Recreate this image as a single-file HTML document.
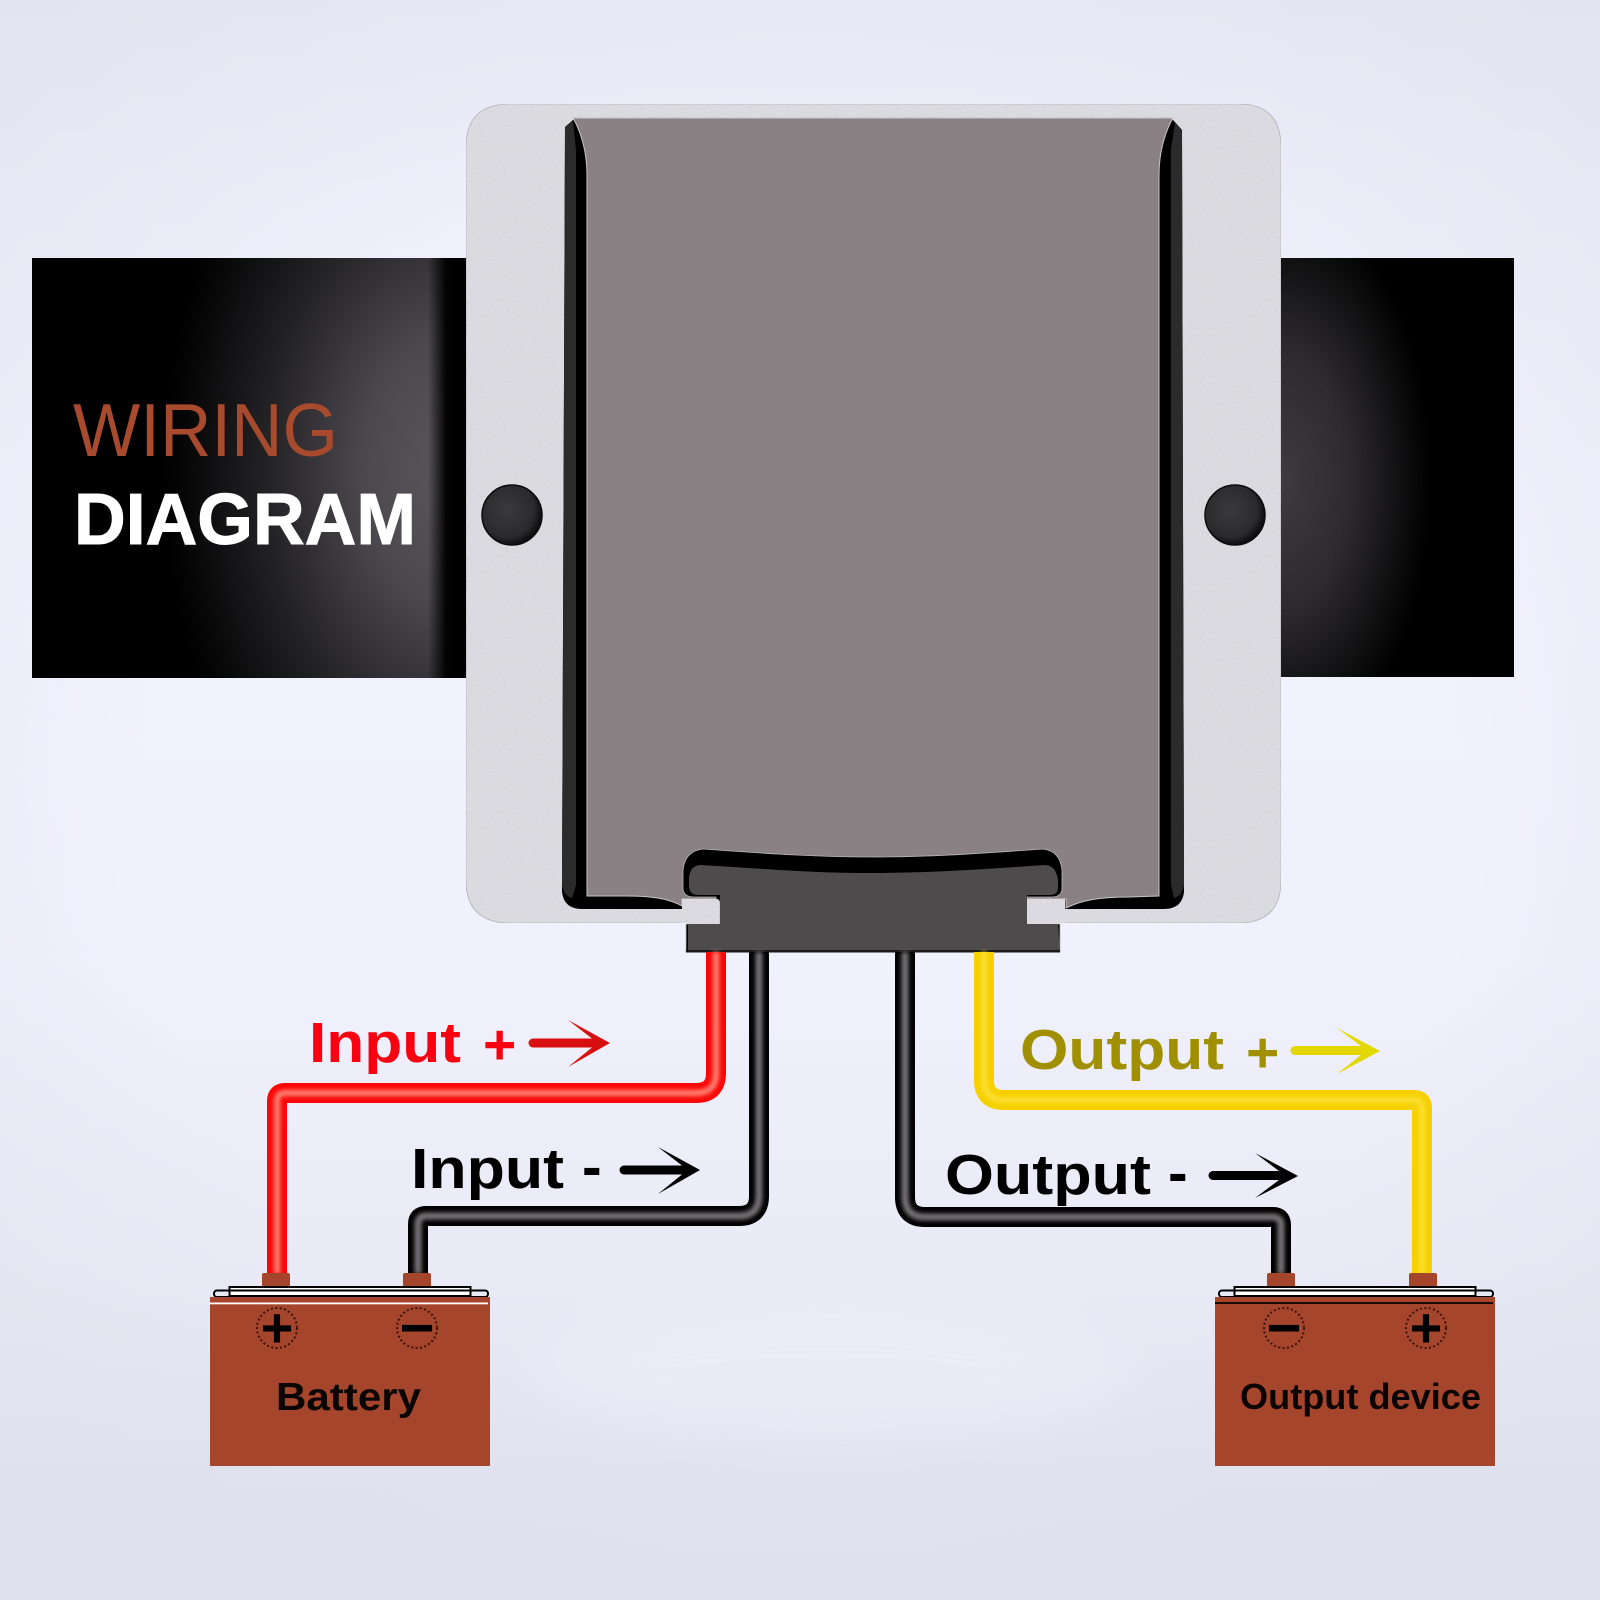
<!DOCTYPE html>
<html lang="en">
<head>
<meta charset="utf-8">
<title>Wiring Diagram</title>
<style>
html,body{margin:0;padding:0;width:1600px;height:1600px;overflow:hidden;background:#eef0fc}
svg{display:block}
text{font-family:"Liberation Sans",sans-serif}
</style>
</head>
<body>
<svg xmlns="http://www.w3.org/2000/svg" width="1600" height="1600" viewBox="0 0 1600 1600">
<defs>
  <linearGradient id="bgV" x1="0" y1="0" x2="0" y2="1">
    <stop offset="0" stop-color="#e9eaf7"/>
    <stop offset=".12" stop-color="#eeeffb"/>
    <stop offset=".3" stop-color="#f1f2fe"/>
    <stop offset=".6" stop-color="#f0f1fd"/>
    <stop offset=".8" stop-color="#e9eaf6"/>
    <stop offset=".92" stop-color="#e1e2f0"/>
    <stop offset="1" stop-color="#e0e1ef"/>
  </linearGradient>
  <radialGradient id="edgeShade" gradientUnits="userSpaceOnUse" cx="800" cy="800" r="1100">
    <stop offset=".6" stop-color="#dfe0ee" stop-opacity="0"/>
    <stop offset="1" stop-color="#dfe0ee" stop-opacity=".6"/>
  </radialGradient>
  <radialGradient id="leftBan" gradientUnits="userSpaceOnUse" cx="450" cy="470" r="1" gradientTransform="translate(450 470) scale(285 440) translate(-450 -470)">
    <stop offset="0" stop-color="#5a575c"/>
    <stop offset=".3" stop-color="#4c494e"/>
    <stop offset=".65" stop-color="#222124"/>
    <stop offset="1" stop-color="#000"/>
  </radialGradient>
  <linearGradient id="leftShade" gradientUnits="userSpaceOnUse" x1="428" y1="0" x2="452" y2="0">
    <stop offset="0" stop-color="#000" stop-opacity="0"/>
    <stop offset=".75" stop-color="#000" stop-opacity=".95"/>
    <stop offset="1" stop-color="#000"/>
  </linearGradient>
  <radialGradient id="rightBan" gradientUnits="userSpaceOnUse" cx="1281" cy="480" r="1" gradientTransform="translate(1281 480) scale(150 280) translate(-1281 -480)">
    <stop offset="0" stop-color="#3d3b3e"/>
    <stop offset=".45" stop-color="#2d2b2e"/>
    <stop offset="1" stop-color="#000"/>
  </radialGradient>
  <filter id="noise" x="0" y="0" width="100%" height="100%">
    <feTurbulence type="fractalNoise" baseFrequency="1.0" numOctaves="2" seed="4" result="n"/>
    <feColorMatrix in="n" type="matrix" values="0 0 0 0 0.6  0 0 0 0 0.6  0 0 0 0 0.63  3 0 0 0 -1.25" result="g"/>
    <feComposite in="g" in2="SourceGraphic" operator="in" result="c"/>
    <feMerge><feMergeNode in="SourceGraphic"/><feMergeNode in="c"/></feMerge>
  </filter>
  <filter id="b2" x="-20%" y="-20%" width="140%" height="140%"><feGaussianBlur stdDeviation="2.2"/></filter>
  <filter id="b30" x="-30%" y="-60%" width="160%" height="220%"><feGaussianBlur stdDeviation="24"/></filter>
  <radialGradient id="hole" cx=".42" cy=".42" r=".62">
    <stop offset="0" stop-color="#3a393c"/>
    <stop offset=".72" stop-color="#2b2a2d"/>
    <stop offset="1" stop-color="#060607"/>
  </radialGradient>
</defs>

<!-- background -->
<rect width="1600" height="1600" fill="url(#bgV)"/>
<rect width="1600" height="1600" fill="url(#edgeShade)"/>
<ellipse cx="830" cy="1370" rx="300" ry="70" fill="#f3f4fe" opacity=".35" filter="url(#b30)"/>

<!-- banner -->
<rect x="32" y="258" width="436" height="420" fill="url(#leftBan)"/>
<rect x="428" y="258" width="40" height="420" fill="url(#leftShade)"/>
<rect x="1278" y="258" width="236" height="419" fill="url(#rightBan)"/>
<text x="73" y="456" font-size="75" fill="#a74a2e" textLength="265" lengthAdjust="spacingAndGlyphs">WIRING</text>
<text x="74" y="544" font-size="72" font-weight="700" fill="#ffffff" stroke="#ffffff" stroke-width="1" textLength="342" lengthAdjust="spacingAndGlyphs">DIAGRAM</text>

<!-- plate -->
<path d="M510,104 H1238 Q1281,104 1281,147 V880 Q1281,923 1238,923 H510 Q466,923 466,880 V147 Q466,104 510,104 Z" fill="#e0e0e6" stroke="#a9a9b0" stroke-width=".8" filter="url(#noise)"/>

<!-- recess -->
<path d="M573,120 L565,127 L562,892 Q564,909 582,909 H700 V880 H1040 V909 H1164 Q1182,909 1184,892 L1182,130 L1173,120 Z" fill="#000"/>
<path d="M565,127 L573,121 L576,150 V885 L572,898 Q564,896 562,885 Z" fill="#2b2b2c"/>
<path d="M1182,130 L1175,122 L1171,150 V885 L1174,898 Q1182,896 1184,885 Z" fill="#2b2b2c"/>

<!-- gray face -->
<path d="M573,118 H1173 C1166,130 1159,150 1159,175 V896 L1130,897 C1100,897 1082,900 1066,908 L1066,899 H682 V906 C668,898 650,896 625,896 L587,896 V175 C587,150 580,130 573,118 Z" fill="#8a8184" stroke="#c9c5c7" stroke-width="1"/>

<!-- silver tabs -->
<path d="M682,899 H719 V923 H682 Z" fill="#e0e0e6" filter="url(#noise)"/>
<path d="M1027,899 H1065 V923 H1027 Z" fill="#e0e0e6" filter="url(#noise)"/>

<!-- connector -->
<path d="M703,849 C760,853 810,857 872,857 C935,857 985,853 1043,849 Q1060,851 1062,870 V888 Q1062,897 1052,897 H1027 V899 Q1025,899 1025,905 V924 H1060 V952 H686 V924 H720 V905 Q720,899 716,899 V897 H694 Q683,897 683,888 V870 Q685,851 703,849 Z" fill="#000" stroke="#b8b4b6" stroke-width=".8"/>
<path d="M700,865 C770,869 810,873 872,873 C935,873 985,869 1046,865 Q1056,866 1058,880 V887 Q1058,895 1050,895 H1027 V924 H1058 L1060,950 H688 L688,924 H720 V895 H698 Q689,895 689,885 V878 Q690,866 700,865 Z" fill="#4e4b4c"/>
<rect x="686" y="950" width="374" height="2.5" fill="#1a1a1a"/>

<!-- holes -->
<circle cx="512" cy="515" r="30" fill="url(#hole)" stroke="#0c0c0d" stroke-width="1.5"/>
<circle cx="1235" cy="515" r="30" fill="url(#hole)" stroke="#0c0c0d" stroke-width="1.5"/>

<!-- wires -->
<g fill="none" stroke-linecap="butt" stroke-linejoin="round">
  <path d="M716,952 V1073 Q716,1093 696,1093 H285 Q277,1093 277,1101 V1274" stroke="#fb0606" stroke-width="20"/>
  <path d="M716,952 V1073 Q716,1093 696,1093 H285 Q277,1093 277,1101 V1274" stroke="#ff8474" stroke-width="6" filter="url(#b2)"/>

  <path d="M759,952 V1196 Q759,1216 739,1216 H426 Q418,1216 418,1224 V1274" stroke="#000" stroke-width="20"/>
  <path d="M759,952 V1196 Q759,1216 739,1216 H426 Q418,1216 418,1224 V1274" stroke="#777276" stroke-width="7" filter="url(#b2)"/>

  <path d="M905,952 V1197 Q905,1217 925,1217 H1273 Q1281,1217 1281,1225 V1274" stroke="#000" stroke-width="20"/>
  <path d="M905,952 V1197 Q905,1217 925,1217 H1273 Q1281,1217 1281,1225 V1274" stroke="#777276" stroke-width="7" filter="url(#b2)"/>

  <path d="M984,952 V1080 Q984,1100 1004,1100 H1414 Q1422,1100 1422,1108 V1274" stroke="#f6d000" stroke-width="20"/>
  <path d="M984,952 V1080 Q984,1100 1004,1100 H1414 Q1422,1100 1422,1108 V1274" stroke="#fbe23a" stroke-width="5" filter="url(#b2)"/>
</g>

<!-- labels -->
<g font-weight="700">
  <text x="309" y="1062" font-size="57" fill="#fb0010" textLength="152" lengthAdjust="spacingAndGlyphs">Input</text>
  <text x="483" y="1064" font-size="57" fill="#fb0010">+</text>
  <text x="411" y="1188" font-size="57" fill="#000" textLength="153" lengthAdjust="spacingAndGlyphs">Input</text>
  <text x="582" y="1187" font-size="59" fill="#000">-</text>
  <text x="1020" y="1069" font-size="57" fill="#a09000" textLength="204" lengthAdjust="spacingAndGlyphs">Output</text>
  <text x="1246" y="1072" font-size="57" fill="#a09000">+</text>
  <text x="945" y="1194" font-size="57" fill="#000" textLength="206" lengthAdjust="spacingAndGlyphs">Output</text>
  <text x="1168" y="1193" font-size="59" fill="#000">-</text>
</g>

<!-- arrows -->
<g>
  <path d="M533,1038.5 H592 L568,1020 L610,1043 L568,1067 L592,1047.5 H533 A4.5,4.5 0 0 1 533,1038.5 Z" fill="#d80f0f"/>
  <path d="M624,1165.5 H682 L658,1147 L700,1170 L658,1194 L682,1174.5 H624 A4.5,4.5 0 0 1 624,1165.5 Z" fill="#000"/>
  <path d="M1295,1046 H1361 L1337,1028 L1380,1051 L1337,1074 L1361,1055 H1295 A4.5,4.5 0 0 1 1295,1046 Z" fill="#e2d800"/>
  <path d="M1213,1171 H1279 L1255,1153 L1298,1176 L1255,1198 L1279,1180 H1213 A4.5,4.5 0 0 1 1213,1171 Z" fill="#000"/>
</g>

<!-- left battery -->
<g>
  <rect x="262" y="1273" width="28" height="14" rx="2" fill="#a5452c"/>
  <rect x="403" y="1273" width="28" height="14" rx="2" fill="#a5452c"/>
  <rect x="229.500" y="1287" width="241" height="9" fill="#fff" stroke="#000" stroke-width="2"/>
  <rect x="214" y="1290.500" width="274" height="6.500" rx="3" fill="none" stroke="#000" stroke-width="2"/>
  <rect x="210" y="1297" width="280" height="169" fill="#a5452c"/>
  <rect x="210" y="1302.500" width="278" height="1.800" fill="#fff"/>
  <circle cx="277" cy="1328" r="20" fill="none" stroke="#3a1208" stroke-width="2" stroke-dasharray="2 2.400"/>
  <circle cx="417" cy="1328" r="20" fill="none" stroke="#3a1208" stroke-width="2" stroke-dasharray="2 2.400"/>
  <text x="277" y="1347" font-size="56" font-weight="700" text-anchor="middle" fill="#000">+</text>
  <text x="417" y="1348" font-size="60" font-weight="700" text-anchor="middle" fill="#000">−</text>
  <text x="276" y="1410" font-size="39" font-weight="700" fill="#0a0503" textLength="145" lengthAdjust="spacingAndGlyphs">Battery</text>
</g>

<!-- right battery -->
<g>
  <rect x="1267" y="1273" width="28" height="14" rx="2" fill="#a5452c"/>
  <rect x="1409" y="1273" width="28" height="14" rx="2" fill="#a5452c"/>
  <rect x="1234.500" y="1287" width="241" height="9" fill="#fff" stroke="#000" stroke-width="2"/>
  <rect x="1219" y="1290.500" width="274" height="6.500" rx="3" fill="none" stroke="#000" stroke-width="2"/>
  <rect x="1215" y="1297" width="280" height="169" fill="#a5452c"/>
  <rect x="1215" y="1302" width="278" height="2" fill="#1a0a05"/>
  <circle cx="1284" cy="1328" r="20" fill="none" stroke="#3a1208" stroke-width="2" stroke-dasharray="2 2.400"/>
  <circle cx="1426" cy="1328" r="20" fill="none" stroke="#3a1208" stroke-width="2" stroke-dasharray="2 2.400"/>
  <text x="1284" y="1348" font-size="60" font-weight="700" text-anchor="middle" fill="#000">−</text>
  <text x="1426" y="1347" font-size="56" font-weight="700" text-anchor="middle" fill="#000">+</text>
  <text x="1240" y="1409" font-size="36" font-weight="700" fill="#0a0503" textLength="241" lengthAdjust="spacingAndGlyphs">Output device</text>
</g>
</svg>
</body>
</html>
